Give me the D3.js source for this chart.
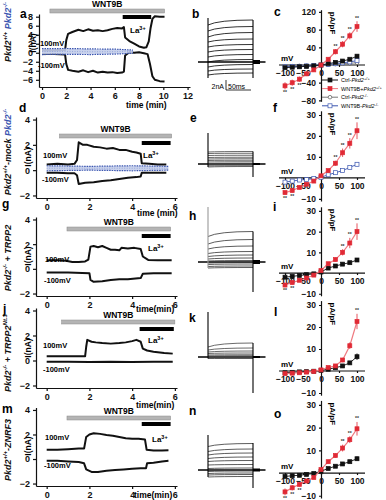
<!DOCTYPE html>
<html>
<head>
<meta charset="utf-8">
<script src="https://cdn.jsdelivr.net/npm/d3@7"></script>
<style>
  body { margin: 0; background: #fff; }
  svg { font-family: "Liberation Sans", Arial, sans-serif; font-weight: bold; }
</style>
</head>
<body>
<svg id="fig" width="386" height="500"></svg>
<script>
// ---------- time courses: [time (min), current (nA)] ----------
const aP100 = [[0,0.5],[1,0.5],[1.9,0.6],[2.0,2.8],[2.15,4.2],[2.5,4.6],[3,5.1],[3.4,4.8],[3.8,5.2],[4.2,4.9],[4.6,5.0],[5,4.8],[5.4,5.0],[5.8,5.3],[6.2,5.5],[6.6,5.4],[6.75,5.7],[6.85,3.4],[7.2,2.6],[7.6,2.0],[8,1.4],[8.4,1.1],[8.6,1.2],[8.8,2.5],[8.95,5.5],[9.1,7.5],[9.3,8.1],[9.7,8.0],[10.1,8.0]];
const aM100 = [[0,-0.3],[1,-0.3],[1.9,-0.4],[2.0,-2.5],[2.15,-3.8],[2.5,-4.0],[3,-4.2],[3.4,-3.9],[3.8,-4.3],[4.2,-4.0],[4.6,-4.4],[5,-4.2],[5.4,-4.4],[5.8,-4.3],[6.2,-4.5],[6.6,-4.4],[6.75,-4.2],[6.85,-0.6],[7.2,0.1],[7.6,0],[8,0.1],[8.4,-0.1],[8.7,-0.3],[8.9,-2.5],[9.1,-5.2],[9.3,-6.0],[9.7,-6.3],[10.1,-6.4]];
const aKoUp = [[0,0.9],[2,0.95],[4,0.85],[6,0.8],[7.5,0.6]];
const aKoLo = [[0,-0.4],[2,-0.35],[4,-0.4],[6,-0.3],[7.5,-0.1]];

const dP100 = [[0,0.45],[0.5,0.5],[1,0.45],[1.3,0.5],[1.42,0.8],[1.5,2.2],[1.7,2.0],[1.9,2.0],[2.2,1.85],[2.5,1.8],[2.8,1.7],[3.1,1.75],[3.4,1.6],[3.7,1.6],[4.0,1.45],[4.2,1.4],[4.4,1.3],[4.45,0.55],[4.8,0.5],[5.2,0.45],[5.6,0.45]];
const dM100 = [[0,-0.2],[0.5,-0.2],[1,-0.25],[1.3,-0.25],[1.42,-0.4],[1.5,-1.1],[1.8,-1.0],[2.2,-0.95],[2.6,-0.85],[3.0,-0.8],[3.4,-0.7],[3.8,-0.6],[4.2,-0.55],[4.4,-0.5],[4.45,-0.2],[5,-0.2],[5.6,-0.2]];
const dKoUp = [[0,0.35],[2,0.3],[4,0.35],[5.7,0.3]];
const dKoLo = [[0,-0.05],[2,0],[4,-0.05],[5.7,0]];

const gP100 = [[0,0.7],[0.5,0.7],[0.9,0.65],[1.2,0.55],[1.5,0.55],[1.8,0.6],[1.95,0.75],[2.05,1.8],[2.2,1.85],[2.4,1.75],[2.6,1.85],[2.8,1.7],[3.0,1.55],[3.2,1.55],[3.4,1.5],[3.5,1.7],[3.8,1.65],[4.1,1.7],[4.4,1.6],[4.5,1.0],[4.75,0.72],[5.2,0.7],[5.85,0.7]];
const gM100 = [[0,-0.3],[1,-0.3],[2,-0.35],[2.05,-0.9],[2.2,-1.05],[2.6,-1.0],[3.0,-0.9],[3.4,-0.85],[3.8,-0.85],[4.4,-0.75],[4.5,-0.4],[5,-0.35],[5.85,-0.35]];

const jP100 = [[0,0.35],[1.8,0.35],[1.85,1.1],[1.9,1.65],[2.1,1.5],[2.3,1.45],[2.6,1.4],[3.0,1.35],[3.4,1.4],[3.7,1.45],[4.0,1.55],[4.2,1.65],[4.4,1.5],[4.5,0.95],[4.7,0.8],[5.0,0.7],[5.5,0.6],[5.9,0.55]];
const jM100 = [[0,-0.1],[1,-0.1],[2,-0.12],[3,-0.1],[4,-0.12],[5,-0.1],[5.9,-0.1]];

const mP100 = [[0,0.75],[0.5,0.75],[1,0.8],[1.5,0.85],[1.75,0.85],[1.85,1.8],[2.0,2.0],[2.2,2.1],[2.5,2.05],[2.8,1.95],[3.1,1.9],[3.4,1.8],[3.7,1.7],[4.0,1.65],[4.3,1.65],[4.6,1.6],[4.68,0.75],[5.0,0.7],[5.4,0.7],[5.7,0.72]];
const mM100 = [[0,-0.15],[0.5,-0.15],[1,-0.2],[1.5,-0.25],[1.75,-0.35],[1.85,-0.85],[2.1,-1.05],[2.4,-1.05],[2.8,-0.95],[3.2,-0.9],[3.6,-0.85],[4.0,-0.8],[4.4,-0.75],[4.65,-0.75],[4.7,-0.35],[5.0,-0.3],[5.4,-0.2],[5.7,-0.15]];

// application periods (min)
const aWnt = [0.65, 10.1], aLa = [6.65, 9.0];
const dWnt = [0.6, 5.85],  dLa = [4.45, 5.8];
const gWnt = [0.95, 5.8],  gLa = [4.45, 5.8];
const jWnt = [0.7, 6.0],   jLa = [4.35, 5.95];
const mWnt = [0.95, 5.8],  mLa = [4.45, 5.8];

const aYTicks = [-6,-4,-2,0,2,4,6,8], aXTicks = [0,2,4,6,8,10,12];
const shortYTicks = [-2,0,2,4], shortXTicks = [0,2,4,6];

// ---------- step families (nA at step start / end, spikes [min,max]) ----------
const bStart = [-2.6,-1.8,-1.0,0,1,2,3,4,5,6.2,7.4];
const bEnd   = [-2.2,-1.4,-0.5,0.5,1.5,2.5,3.5,4.6,5.9,7.1,8.4];
const bSpikeOn = [-3.2, 8.8], bSpikeOff = [-3.2, 8.4];
const eStart = [-0.6,-0.4,-0.2,0.1,0.4,0.7,1.0,1.3,1.7,2.1,2.4];
const eEnd   = [-0.5,-0.35,-0.15,0.15,0.45,0.75,1.05,1.35,1.75,2.15,2.5];
const eSpikeOn = [-0.6, 6.2], eSpikeOff = [-2.6, 2.5];
const hStart = [-1.2,-0.9,-0.5,-0.2,0.2,0.6,1.1,1.7,2.6,3.6,5.1];
const hEnd   = [-1.1,-0.8,-0.4,-0.1,0.3,0.8,1.4,2.1,3.2,4.5,6.1];
const hSpikeOn = [-1.2, 11], hSpikeOff = [-6, 6.1];
const kStart = [-0.3,-0.2,-0.1,0,0.1,0.2,0.4,0.7,1.0,1.4,2.0];
const kEnd   = [-0.3,-0.2,-0.1,0,0.1,0.25,0.45,0.8,1.2,1.8,2.8];
const kSpikeOn = [-0.3, 9], kSpikeOff = [-7.2, 2.8];
const nStart = [-1.4,-1.0,-0.7,-0.3,0.3,1.0,1.7,2.3,3.0,3.7,4.7];
const nEnd   = [-1.3,-0.9,-0.6,-0.2,0.4,1.1,1.9,2.6,3.4,4.2,5.3];
const nSpikeOn = [-1.4, 7], nSpikeOff = [-3.6, 5.4];

// ---------- I-V relations (pA/pF) ----------
const voltages = [-100,-80,-60,-40,-20,0,20,40,60,80,100];
const ivXTicks = [-100,-50,0,50,100];

const cCtrlWt = [-6,-5,-4,-3,-2,0,3,6,9,13,20];
const cCtrlWtErr = [1,1,1,1,1,0.5,1,1.5,2,2.5,4];
const cWntWt = [-47,-40,-32,-20,-11,0,13,30,47,66,87];
const cWntWtErr = [8,7,6,5,4,2,4,6,7,8,12];
const cCtrlKo = [-3,-2.5,-2,-1.5,-1,0,1,2,3,4,5];
const cWntKo = [-4,-3.5,-3,-2,-1,0,1.5,3,5,7,10];
const cYTicks = [-80,-40,40,80,120];
const cStarsUp = [40,60,80,100], cStarsDown = [-100,-80,-60];

const fWntWt = [-7,-6,-4.5,-3,-1.5,1,3.5,7,12,16.5,22.5];
const fWntWtErr = [1,1,1,0.8,0.6,0.5,0.8,1.2,2,2.5,4];
const fWntKo = [-2,-1.5,-1,-0.8,-0.3,0.3,1.5,2.5,3.5,5,6.5];
const fWntKoErr = [0.5,0.5,0.4,0.3,0.3,0.3,0.4,0.5,0.7,0.8,1];
const fStarsUp = [40,60,80,100], fStarsDown = [-100,-80];

const iWnt = [-5.8,-4.6,-3.5,-2.4,-1,1.2,4.5,6.5,10,14.5,20];
const iWntErr = [1,1,0.8,0.6,0.5,0.5,0.8,1,1.5,2.5,4];
const iCtrl = [-2,-1.6,-1.2,-0.8,-0.4,0.5,2.4,3.4,4.3,5,6.3];
const iCtrlErr = [0.4,0.4,0.3,0.3,0.3,0.3,0.4,0.5,0.6,0.7,0.9];
const iStarsUp = [60,80,100], iStarsDown = [-100,-80];

const lWnt = [-1.2,-1,-0.8,-0.5,-0.2,0.5,1.6,2.3,5,11.5,22.5];
const lWntErr = [0.5,0.5,0.4,0.3,0.3,0.3,0.4,0.6,1,1.5,3.5];
const lCtrl = [-0.8,-0.6,-0.4,-0.3,-0.1,0.3,0.8,1.5,2.3,3.7,6.5];
const lCtrlErr = [0.3,0.3,0.3,0.3,0.3,0.3,0.3,0.4,0.6,0.8,1.5];
const lStarsUp = [100], lStarsDown = [];

const oWnt = [-8.3,-6.5,-5,-3.5,-2,1.5,5,7.7,11,14.7,19.5];
const oWntErr = [1.5,1.2,1,0.8,0.6,0.5,0.8,1,1.5,1.5,3];
const oCtrl = [-1.5,-1.2,-1,-0.6,-0.2,0.8,2,3,4,5,6.3];
const oCtrlErr = [0.4,0.4,0.3,0.3,0.3,0.3,0.4,0.5,0.6,0.7,1];
const oStarsUp = [60,80,100], oStarsDown = [-100,-80,-60];
const ivYTicks = [-10,10,20,30];

const RED = "#e02a35", RED_LINE = "#ef7a80", BLUE = "#3a55b0", GRAY_BAR = "#b4b4b4";
const intFmt = d3.format("d");

const svg = d3.select("#fig");

function styleAxis(sel, size) {
  sel.attr("font-family", null).attr("font-size", size);
  sel.selectAll("path,line").attr("stroke", "#111").attr("stroke-width", 1.2);
  sel.selectAll("text").attr("fill", "#111");
}

function laText(g, x, y) {
  const t = g.append("text").attr("x", x).attr("y", y).attr("font-size", 8);
  t.append("tspan").text("La");
  t.append("tspan").attr("font-size", 5.5).attr("dy", -3.5).text("3+");
}

function timeCourse(o) {
  const g = svg.append("g");
  const x = d3.scaleLinear().domain(o.xDom).range(o.xRange);
  const y = d3.scaleLinear().domain(o.yDom).range(o.yRange);
  const line = d3.line().x(d => x(d[0])).y(d => y(d[1]));

  [o.p100, o.m100].forEach(s => g.append("path").datum(s).attr("d", line)
    .attr("fill", "none").attr("stroke", "#111").attr("stroke-width", 2)
    .attr("stroke-linejoin", "round"));

  if (o.koUp) {
    const band = o.koUp.map((d, i) => [d[0], d[1], o.koLo[i][1]]);
    g.append("path").datum(band)
      .attr("d", d3.area().x(d => x(d[0])).y0(d => y(d[2])).y1(d => y(d[1])))
      .attr("fill", "#c3cdea").attr("fill-opacity", 0.9);
    [o.koUp, o.koLo].forEach(s => g.append("path").datum(s).attr("d", line)
      .attr("fill", "none").attr("stroke", BLUE).attr("stroke-width", 1.2)
      .attr("stroke-dasharray", "1.5,1"));
    const mid = o.koUp.map((d, i) => [d[0], (d[1] + o.koLo[i][1]) / 2]);
    g.append("path").datum(mid).attr("d", line).attr("fill", "none")
      .attr("stroke", "#8c9ed6").attr("stroke-width", 0.8).attr("stroke-dasharray", "1,1.5");
  }

  g.append("g").attr("transform", `translate(0,${o.yRange[0]})`)
    .call(d3.axisBottom(x).tickValues(o.xTicks).tickFormat(intFmt).tickSize(3).tickSizeOuter(0))
    .call(s => styleAxis(s, 9));
  g.append("g").attr("transform", `translate(${o.xRange[0]},0)`)
    .call(d3.axisLeft(y).tickValues(o.yTicks).tickFormat(intFmt).tickSize(3).tickSizeOuter(0))
    .call(s => styleAxis(s, 9));

  // treatment bars
  g.append("rect").attr("x", x(o.wnt[0])).attr("width", x(o.wnt[1]) - x(o.wnt[0]))
    .attr("y", o.wntY).attr("height", 4).attr("fill", GRAY_BAR).attr("stroke", "#8a8a8a").attr("stroke-width", 0.5);
  g.append("text").attr("x", (x(o.wnt[0]) + x(o.wnt[1])) / 2).attr("y", o.wntY - 2.5)
    .attr("text-anchor", "middle").attr("font-size", 8.5).text("WNT9B");
  g.append("rect").attr("x", x(o.la[0])).attr("width", x(o.la[1]) - x(o.la[0]))
    .attr("y", o.laY).attr("height", 4).attr("fill", "#000");
  laText(g, o.laTx[0], o.laTx[1]);

  g.append("text").attr("x", o.lbl100[0]).attr("y", o.lbl100[1]).attr("font-size", 7.5).text("100mV");
  g.append("text").attr("x", o.lblM100[0]).attr("y", o.lblM100[1]).attr("font-size", 7.5).text("-100mV");
  g.append("text").attr("transform", `translate(${o.iLbl[0]},${o.iLbl[1]}) rotate(-90)`)
    .attr("text-anchor", "middle").attr("font-size", 8.5).text("I(nA)");
  g.append("text").attr("x", o.timeLbl[0]).attr("y", o.timeLbl[1]).attr("font-size", 8.5).text(o.timeText);
}

function stepFamily(o) {
  const g = svg.append("g");
  const x = d3.scaleLinear().domain([-20, 115]).range([198, 265.5]);
  const y = d3.scaleLinear().domain([0, 1]).range([o.base, o.base - 5]);
  g.append("line").attr("x1", x(-20)).attr("x2", x(115)).attr("y1", y(0)).attr("y2", y(0))
    .attr("stroke", "#000").attr("stroke-width", 1.6);
  g.append("line").attr("x1", x(90)).attr("x2", x(104)).attr("y1", y(0)).attr("y2", y(0))
    .attr("stroke", "#000").attr("stroke-width", o.tail);
  o.start.forEach((s, i) => {
    const p = d3.path();
    p.moveTo(x(0), y(s));
    p.quadraticCurveTo(x(20), y(o.end[i]), x(90), y(o.end[i]));
    g.append("path").attr("d", p.toString()).attr("fill", "none")
      .attr("stroke", o.color).attr("stroke-width", 0.8);
  });
  g.append("line").attr("x1", x(0)).attr("x2", x(0)).attr("y1", y(o.on[0])).attr("y2", y(o.on[1]))
    .attr("stroke", o.spikeColor).attr("stroke-width", 1.1);
  g.append("line").attr("x1", x(90)).attr("x2", x(90)).attr("y1", y(o.off[0])).attr("y2", y(o.off[1]))
    .attr("stroke", "#000").attr("stroke-width", 1.1);
  if (o.scaleBar) {
    const bx = x(36), y1 = y(-3.6), y2 = y(-5.6);
    g.append("path").attr("d", `M${bx},${y1}V${y2}H${x(86)}`).attr("fill", "none")
      .attr("stroke", "#000").attr("stroke-width", 0.8);
    g.append("text").attr("x", bx - 2).attr("y", y2 - 1).attr("text-anchor", "end")
      .attr("font-size", 7).attr("font-weight", "normal").text("2nA");
    g.append("text").attr("x", bx + 2).attr("y", y2 - 1)
      .attr("font-size", 7).attr("font-weight", "normal").text("50ms");
  }
}

function marker(g, cx, cy, kind) {
  if (kind === "circle") {
    g.append("circle").attr("cx", cx).attr("cy", cy).attr("r", 1.8)
      .attr("fill", "#fff").attr("stroke", "#555").attr("stroke-width", 0.7);
  } else {
    const fill = kind === "red" ? RED : kind === "black" ? "#111" : "#fff";
    const stroke = kind === "red" ? RED : kind === "black" ? "#111" : BLUE;
    g.append("rect").attr("x", cx - 2).attr("y", cy - 2).attr("width", 4).attr("height", 4)
      .attr("fill", fill).attr("stroke", stroke).attr("stroke-width", 0.7);
  }
}

function ivSeries(g, x, y, vals, errs, kind) {
  const pts = voltages.map((v, i) => [v, vals[i], errs ? errs[i] : 0]);
  const col = kind === "red" ? RED_LINE : kind === "black" ? "#111" : kind === "blue" ? BLUE : "#777";
  g.append("path").datum(pts).attr("d", d3.line().x(d => x(d[0])).y(d => y(d[1])))
    .attr("fill", "none").attr("stroke", col).attr("stroke-width", kind === "red" ? 1.2 : 0.9);
  if (errs) {
    pts.forEach(d => {
      g.append("line").attr("x1", x(d[0])).attr("x2", x(d[0]))
        .attr("y1", y(d[1] - d[2])).attr("y2", y(d[1] + d[2]))
        .attr("stroke", kind === "red" ? RED : col).attr("stroke-width", 0.8);
    });
  }
  pts.forEach(d => marker(g, x(d[0]), y(d[1]), kind));
}

function stars(g, x, y, vals, errs, up, down) {
  voltages.forEach((v, i) => {
    if (up.includes(v)) g.append("text").attr("x", x(v)).attr("y", y(vals[i] + errs[i]) - 1.5)
      .attr("text-anchor", "middle").attr("font-size", 5).attr("fill", "#333").text("**");
    if (down.includes(v)) g.append("text").attr("x", x(v)).attr("y", y(vals[i] - errs[i]) + 5)
      .attr("text-anchor", "middle").attr("font-size", 5).attr("fill", "#333").text("**");
  });
}

function ivPanel(o) {
  const g = svg.append("g");
  const x = d3.scaleLinear().domain([-100, 100]).range([285, 357]);
  const y = d3.scaleLinear().domain(o.yDom).range(o.yRange);
  g.append("g").attr("transform", `translate(0,${y(0)})`)
    .call(d3.axisBottom(x).tickValues(ivXTicks).tickFormat(intFmt).tickSize(2).tickSizeOuter(0))
    .call(s => styleAxis(s, 8.5))
    .call(s => s.select(".domain").remove());
  g.append("line").attr("x1", x(-100) - 6).attr("x2", x(100) + 8).attr("y1", y(0)).attr("y2", y(0))
    .attr("stroke", "#111").attr("stroke-width", 1.2);
  g.append("g").attr("transform", `translate(${x(0)},0)`)
    .call(d3.axisLeft(y).tickValues(o.yTicks).tickFormat(intFmt).tickSize(2).tickSizeOuter(0))
    .call(s => styleAxis(s, 8.5));
  g.append("text").attr("x", 281).attr("y", y(0) - 4).attr("font-size", 8).text("mV");
  g.append("text").attr("transform", `translate(${x(0) + 9},${o.yRange[1] + 2}) rotate(90)`)
    .attr("font-size", 8).text("pA/pF");
  o.series.forEach(s => ivSeries(g, x, y, s.vals, s.errs, s.kind));
  stars(g, x, y, o.starVals, o.starErrs, o.up, o.down);
}

// ---------- panel letters ----------
[["a",20,18],["b",192,18],["c",274,16],["d",19,112],["e",190,122],["f",273,112],
 ["g",2,208],["h",189,220],["i",273,211],["j",3,313],["k",189,322],["l",274,316],
 ["m",2,413],["n",189,415],["o",274,418]].forEach(([t, x, y]) =>
  svg.append("text").attr("x", x).attr("y", y).attr("font-size", 12).text(t));

// ---------- row labels ----------
function rowLabel(cy, parts) {
  const t = svg.append("text").attr("transform", `translate(11,${cy}) rotate(-90)`)
    .attr("text-anchor", "middle").attr("font-size", 9).attr("font-style", "italic");
  let back = 0;
  parts.forEach(p => {
    const ts = t.append("tspan").attr("fill", p.c || "#111").text(p.t);
    if (back) { ts.attr("dy", back); back = 0; }
    if (p.s) {
      t.append("tspan").attr("fill", p.c || "#111").attr("font-size", 6).attr("dy", -4).text(p.s);
      back = 4;
    }
  });
}
rowLabel(32, [{t: "Pkd2", s: "+/+"}, {t: " "}, {t: "Pkd2", s: "-/-", c: BLUE}]);
rowLabel(152, [{t: "Pkd2", s: "+/+"}, {t: "-mock "}, {t: "Pkd2", s: "-/-", c: BLUE}]);
rowLabel(258, [{t: "Pkd2", s: "-/-"}, {t: " + TRPP2"}]);
rowLabel(353, [{t: "Pkd2", s: "-/-"}, {t: " + TRPP2", s: "Nt.3"}]);
rowLabel(450, [{t: "Pkd2", s: "+/+"}, {t: "-ZNRF3"}]);

// ---------- time-course panels ----------
timeCourse({p100: aP100, m100: aM100, koUp: aKoUp, koLo: aKoLo,
  xDom: [-0.25, 12.2], xRange: [39, 190], yDom: [-7.6, 8.6], yRange: [87, 14],
  xTicks: aXTicks, yTicks: aYTicks, wnt: aWnt, la: aLa, wntY: 9, laY: 15,
  laTx: [130, 33], lbl100: [40, 46], lblM100: [38, 68], iLbl: [36, 43],
  timeLbl: [126, 108], timeText: "time (min)"});
timeCourse({p100: dP100, m100: dM100, koUp: dKoUp, koLo: dKoLo,
  xDom: [-0.5, 6.1], xRange: [36, 177], yDom: [-2.2, 4.2], yRange: [198, 117],
  xTicks: shortXTicks, yTicks: shortYTicks, wnt: dWnt, la: dLa, wntY: 134, laY: 141,
  laTx: [143, 158], lbl100: [43, 158], lblM100: [42, 182], iLbl: [31, 157],
  timeLbl: [137, 216], timeText: "time (min)"});
timeCourse({p100: gP100, m100: gM100,
  xDom: [-0.5, 6.1], xRange: [36, 177], yDom: [-2.2, 4.2], yRange: [296, 217],
  xTicks: shortXTicks, yTicks: shortYTicks, wnt: gWnt, la: gLa, wntY: 227, laY: 234,
  laTx: [148, 251], lbl100: [45, 262], lblM100: [44, 283], iLbl: [31, 256],
  timeLbl: [136, 312], timeText: "time(min)"});
timeCourse({p100: jP100, m100: jM100,
  xDom: [-0.5, 6.1], xRange: [36, 177], yDom: [-2.2, 4.2], yRange: [388, 308],
  xTicks: shortXTicks, yTicks: shortYTicks, wnt: jWnt, la: jLa, wntY: 320, laY: 327,
  laTx: [148, 343], lbl100: [43, 348], lblM100: [43, 372], iLbl: [31, 348],
  timeLbl: [136, 408], timeText: "time(min)"});
timeCourse({p100: mP100, m100: mM100,
  xDom: [-0.5, 6.1], xRange: [36, 177], yDom: [-2.2, 4.2], yRange: [486, 407.5],
  xTicks: shortXTicks, yTicks: shortYTicks, wnt: mWnt, la: mLa, wntY: 416, laY: 422,
  laTx: [152, 442], lbl100: [45, 440], lblM100: [44, 468], iLbl: [31, 446],
  timeLbl: [134, 498], timeText: "time(min)"});

// ---------- step-current families ----------
stepFamily({start: bStart, end: bEnd, on: bSpikeOn, off: bSpikeOff, base: 62, tail: 4,
  color: "#000", spikeColor: "#000", scaleBar: true});
stepFamily({start: eStart, end: eEnd, on: eSpikeOn, off: eSpikeOff, base: 164, tail: 2,
  color: "#444", spikeColor: "#000"});
stepFamily({start: hStart, end: hEnd, on: hSpikeOn, off: hSpikeOff, base: 262, tail: 4,
  color: "#333", spikeColor: "#999"});
stepFamily({start: kStart, end: kEnd, on: kSpikeOn, off: kSpikeOff, base: 357, tail: 2,
  color: "#444", spikeColor: "#000"});
stepFamily({start: nStart, end: nEnd, on: nSpikeOn, off: nSpikeOff, base: 470, tail: 3,
  color: "#333", spikeColor: "#000"});

// ---------- I-V panels ----------
ivPanel({yDom: [-82, 125], yRange: [101.3, 9.7], yTicks: cYTicks,
  series: [{vals: cCtrlKo, kind: "circle"}, {vals: cWntKo, kind: "blue"},
           {vals: cCtrlWt, errs: cCtrlWtErr, kind: "black"},
           {vals: cWntWt, errs: cWntWtErr, kind: "red"}],
  starVals: cWntWt, starErrs: cWntWtErr, up: cStarsUp, down: cStarsDown});
ivPanel({yDom: [-11, 32], yRange: [201, 110.8], yTicks: ivYTicks,
  series: [{vals: fWntKo, errs: fWntKoErr, kind: "blue"},
           {vals: fWntWt, errs: fWntWtErr, kind: "red"}],
  starVals: fWntWt, starErrs: fWntWtErr, up: fStarsUp, down: fStarsDown});
ivPanel({yDom: [-11, 32], yRange: [295.8, 206.8], yTicks: ivYTicks,
  series: [{vals: iCtrl, errs: iCtrlErr, kind: "black"},
           {vals: iWnt, errs: iWntErr, kind: "red"}],
  starVals: iWnt, starErrs: iWntErr, up: iStarsUp, down: iStarsDown});
ivPanel({yDom: [-11, 32], yRange: [395.2, 300.6], yTicks: ivYTicks,
  series: [{vals: lCtrl, errs: lCtrlErr, kind: "black"},
           {vals: lWnt, errs: lWntErr, kind: "red"}],
  starVals: lWnt, starErrs: lWntErr, up: lStarsUp, down: lStarsDown});
ivPanel({yDom: [-11, 32], yRange: [498, 400.4], yTicks: ivYTicks,
  series: [{vals: oCtrl, errs: oCtrlErr, kind: "black"},
           {vals: oWnt, errs: oWntErr, kind: "red"}],
  starVals: oWnt, starErrs: oWntErr, up: oStarsUp, down: oStarsDown});

// legend of panel c
const legendRows = [
  {kind: "black", pre: "Ctrl-", s: "+/+"},
  {kind: "red", pre: "WNT9B+", s: "+/+"},
  {kind: "circle", pre: "Ctrl-", s: "-/-"},
  {kind: "blue", pre: "WNT9B-", s: "-/-"}];
const lg = svg.append("g");
legendRows.forEach((r, i) => {
  const ly = 80 + i * 8.6;
  const col = r.kind === "red" ? RED_LINE : r.kind === "blue" ? BLUE : r.kind === "circle" ? "#777" : "#111";
  lg.append("line").attr("x1", 322).attr("x2", 338).attr("y1", ly).attr("y2", ly)
    .attr("stroke", col).attr("stroke-width", 1);
  marker(lg, 330, ly, r.kind);
  const t = lg.append("text").attr("x", 341).attr("y", ly + 2).attr("font-size", 5.5)
    .attr("font-weight", "normal");
  t.append("tspan").text(r.pre);
  t.append("tspan").attr("font-style", "italic").text("Pkd2");
  t.append("tspan").attr("font-size", 4).attr("dy", -2).text(r.s);
});
</script>
</body>
</html>
